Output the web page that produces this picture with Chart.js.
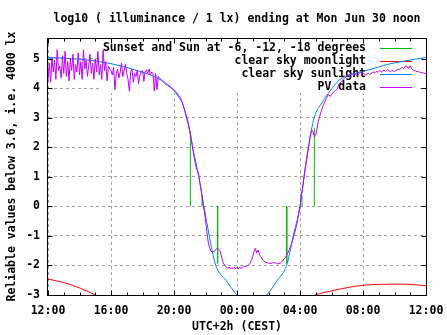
<!DOCTYPE html>
<html>
<head>
<meta charset="utf-8">
<script src="https://cdn.jsdelivr.net/npm/chart.js@4"></script>
<style>
  html, body { margin: 0; padding: 0; background: #fff; }
  #wrap { width: 447px; height: 335px; }
</style>
</head>
<body>
<div id="wrap"><canvas id="lux"></canvas></div>
<script>
// x is hours after 12:00 noon of the previous day
const xTickHours = [0, 4, 8, 12, 16, 20, 24];
const xTickLabels = ['12:00', '16:00', '20:00', '00:00', '04:00', '08:00', '12:00'];
const yTicks = [-3, -2, -1, 0, 1, 2, 3, 4, 5];

const chartTitle = 'log10 ( illuminance / 1 lx) ending at Mon Jun 30 noon';
const seriesNames = [
    'Sunset and Sun at -6, -12, -18 degrees',
    'clear sky moonlight',
    'clear sky sunlight',
    'PV data'
];

// sunset, sun at -6, -12 (evening) then -12, -6, sunrise (morning)
const sunHours = [9.04, 9.78, 10.77, 15.16, 16.13, 16.91];
const sunLog = [2.53, 0.33, -1.93, -1.93, 0.37, 2.66];

const moonHours = [0, 1, 2, 3, 4, 8, 12, 16, 17, 18, 19, 20, 21, 22, 23, 24];
const moonLog = [-2.46, -2.58, -2.76, -3.0, -3.25, -3.8, -3.8, -3.2, -2.99, -2.86, -2.75, -2.67, -2.64, -2.63, -2.64, -2.69];

const clearHours = [0, 1, 2, 3, 4, 5, 5.84, 6.5, 6.9, 7.5, 7.96, 8.3, 8.59, 8.79, 9.0, 9.16, 9.38, 9.6, 9.9,
    10.24, 10.42, 10.65, 11.3, 12.0, 12.5, 12.93, 13.4, 13.89, 14.56, 15.15, 15.38, 15.57, 16.0,
    16.25, 16.53, 16.9, 17.38, 17.9, 18.54, 19.5, 20.44, 21.5, 22.54, 23.3, 24];
const clearLog = [5.04, 5.02, 4.98, 4.92, 4.83, 4.7, 4.57, 4.45, 4.35, 4.17, 3.95, 3.7, 3.42, 3.0, 2.55, 2.05, 1.5, 0.95, 0.0,
    -1.0, -1.5, -2.0, -2.5, -3.0, -3.2, -3.28, -3.2, -3.0, -2.5, -2.0, -1.5, -1.0, 0.0,
    1.0, 2.0, 3.0, 3.5, 3.9, 4.3, 4.5, 4.63, 4.8, 4.91, 4.98, 5.04];

// PV readings every 5 minutes from 12:00, one row per hour
const pvStepMin = 5;
const pvLog = [
    4.25, 4.85, 4.2, 5.05, 4.55, 4.95, 4.3, 5.3, 4.6, 4.75, 4.35, 5.1,
    4.5, 5.25, 4.4, 4.9, 4.25, 5.0, 4.6, 5.15, 4.3, 4.8, 4.55, 5.2,
    4.45, 4.9, 4.3, 5.3, 4.65, 4.95, 4.4, 4.75, 5.15, 4.5, 4.85, 4.3,
    5.0, 4.55, 5.25, 4.45, 4.8, 4.3, 5.3, 4.6, 4.9, 4.25, 4.75, 4.65,
    4.6, 4.45, 4.7, 3.95, 4.5, 4.65, 4.35, 4.55, 4.85, 4.4, 4.6, 4.8,
    4.5, 4.3, 3.9, 4.55, 4.65, 4.2, 4.5, 4.4, 4.6, 4.15, 4.45, 4.55,
    4.6, 4.23, 4.55, 4.62, 4.5, 4.65, 4.45, 4.55, 4.5, 3.9, 4.5, 3.95,
    4.4, 4.35, 4.3, 4.25, 4.2, 4.16, 4.12, 4.09, 4.07, 4.05, 4.0, 3.97,
    3.95, 3.9, 3.85, 3.8, 3.74, 3.68, 3.55, 3.4, 3.28, 3.12, 2.98, 2.8,
    2.55, 2.35, 2.05, 1.75, 1.5, 1.3, 1.2, 1.0, 0.7, 0.45, 0.1, -0.15,
    -0.46, -0.85, -1.2, -1.38, -1.5, -1.55, -1.53, -1.52, -1.45, -1.42, -1.45, -1.5,
    -1.65, -1.85, -1.95, -2.02, -2.05, -2.1, -2.06, -2.12, -2.07, -2.11, -2.06, -2.12,
    -2.06, -2.12, -2.07, -2.11, -2.05, -2.04, -2.04, -2.03, -2.0, -1.97, -1.93, -1.82,
    -1.7, -1.52, -1.42, -1.58, -1.48, -1.62, -1.7, -1.77, -1.83, -1.87, -1.89, -1.91,
    -1.93, -1.92, -1.94, -1.9, -1.92, -1.9, -1.93, -1.95, -1.93, -1.92, -1.88, -1.82,
    -1.78, -1.72, -1.64, -1.55, -1.45, -1.33, -1.18, -1.05, -0.88, -0.72, -0.5, -0.25,
    0.0, 0.38, 0.62, 0.95, 1.3, 1.55, 1.85, 2.12, 2.45, 2.58, 2.54, 2.36,
    2.4, 2.65, 2.88, 3.05, 3.2, 3.32, 3.45, 3.55, 3.65, 3.75, 3.78, 3.72,
    3.78, 3.85, 3.88, 3.93, 3.96, 4.05, 4.15, 4.2, 4.26, 4.3, 4.34, 4.38,
    4.42, 4.44, 4.46, 4.5, 4.47, 4.43, 4.48, 4.46, 4.44, 4.5, 4.53, 4.49,
    4.52, 4.48, 4.45, 4.47, 4.5, 4.46, 4.49, 4.53, 4.55, 4.52, 4.57, 4.55,
    4.56, 4.6, 4.54, 4.58, 4.62, 4.57, 4.6, 4.63, 4.58, 4.55, 4.6, 4.58,
    4.57, 4.6, 4.62, 4.65, 4.63, 4.68, 4.7, 4.66, 4.72, 4.76, 4.7, 4.68,
    4.76, 4.66, 4.62, 4.6, 4.58, 4.56, 4.57, 4.54, 4.53, 4.52, 4.52, 4.5,
    4.5
];

const monoFont = { family: '"DejaVu Sans Mono", monospace', size: 11.5, weight: 'bold' };
const monoCss = 'bold 11.5px "DejaVu Sans Mono", monospace';
const ink = '#000';

const pts = (xs, ys) => xs.map((x, i) => ({ x: x, y: ys[i] }));

// vertical impulses from 0 to the value, separated by gaps
const impulses = [];
sunHours.forEach((h, i) => {
    impulses.push({ x: h, y: 0 }, { x: h, y: sunLog[i] }, { x: h, y: null });
});

const pvPoints = pvLog.map((v, i) => ({ x: i * pvStepMin / 60, y: v }));

// gnuplot look: opaque key box under the curves, border, inward ticks and title on top
const gnuplotFrame = {
    id: 'gnuplotFrame',
    beforeDatasetsDraw(chart) {
        const { ctx, chartArea: a } = chart;
        const textRight = a.right - 60;
        ctx.save();
        ctx.font = monoCss;
        const widest = Math.max(...chart.data.datasets.map(d => ctx.measureText(d.label).width));
        const boxLeft = textRight - widest - 4;
        ctx.fillStyle = '#fff';
        ctx.fillRect(boxLeft, a.top, a.right - 7 - boxLeft, 55);
        ctx.textAlign = 'right';
        ctx.textBaseline = 'middle';
        chart.data.datasets.forEach((d, i) => {
            const y = a.top + 10 + i * 13;
            ctx.fillStyle = ink;
            ctx.fillText(d.label, textRight, y);
            ctx.strokeStyle = d.borderColor;
            ctx.lineWidth = 1;
            ctx.beginPath();
            ctx.moveTo(a.right - 46, Math.round(y) + 0.5);
            ctx.lineTo(a.right - 14, Math.round(y) + 0.5);
            ctx.stroke();
        });
        ctx.restore();
    },
    afterDraw(chart) {
        const { ctx, chartArea: a, scales: { x, y } } = chart;
        const x0 = Math.round(a.left) - 0.5, x1 = Math.round(a.right) + 0.5;
        const y0 = Math.round(a.top) + 0.5, y1 = Math.round(a.bottom) + 0.5;
        ctx.save();
        ctx.strokeStyle = ink;
        ctx.lineWidth = 1;
        ctx.beginPath();
        for (let h = 0; h <= 24; h++) {
            const len = h % 4 === 0 ? 5 : 3;
            const px = Math.round(x.getPixelForValue(h)) + 0.5;
            ctx.moveTo(px, y1); ctx.lineTo(px, y1 - len);
            ctx.moveTo(px, y0); ctx.lineTo(px, y0 + len);
        }
        yTicks.forEach(v => {
            const py = Math.round(y.getPixelForValue(v)) + 0.5;
            ctx.moveTo(x0, py); ctx.lineTo(x0 + 5, py);
            ctx.moveTo(x1, py); ctx.lineTo(x1 - 5, py);
        });
        ctx.stroke();
        ctx.strokeRect(x0, y0, x1 - x0, y1 - y0);

        ctx.font = monoCss;
        ctx.fillStyle = ink;
        ctx.textAlign = 'center';
        ctx.textBaseline = 'middle';
        ctx.fillText(chartTitle, (a.left + a.right) / 2, 19);
        ctx.restore();
    }
};

new Chart(document.getElementById('lux'), {
    type: 'line',
    data: {
        datasets: [
            { label: seriesNames[0], data: impulses, borderColor: '#00c000', order: 4 },
            { label: seriesNames[1], data: pts(moonHours, moonLog), borderColor: '#ff0000', cubicInterpolationMode: 'monotone', order: 3 },
            { label: seriesNames[2], data: pts(clearHours, clearLog), borderColor: '#0080ff', cubicInterpolationMode: 'monotone', order: 2 },
            { label: seriesNames[3], data: pvPoints, borderColor: '#c000ff', order: 1 }
        ]
    },
    options: {
        responsive: true,
        maintainAspectRatio: false,
        animation: false,
        events: [],
        elements: {
            point: { radius: 0 },
            line: { borderWidth: 1, tension: 0 }
        },
        layout: { padding: { top: 38, right: 21 } },
        plugins: {
            legend: { display: false },
            tooltip: { enabled: false }
        },
        scales: {
            x: {
                type: 'linear',
                min: 0,
                max: 24,
                afterBuildTicks: s => { s.ticks = xTickHours.map(v => ({ value: v })); },
                afterFit: s => { s.height = 40; s.paddingLeft = 0; s.paddingRight = 0; },
                ticks: {
                    callback: v => xTickLabels[xTickHours.indexOf(v)],
                    font: monoFont,
                    color: ink,
                    padding: 9,
                    maxRotation: 0,
                    autoSkip: false
                },
                grid: { color: '#a0a0a0', drawTicks: false },
                border: { display: false, dash: [3, 3] },
                title: {
                    display: true,
                    text: 'UTC+2h (CEST)',
                    font: monoFont,
                    color: ink,
                    padding: { top: 0, bottom: 1.5 }
                }
            },
            y: {
                min: -3,
                max: 5.7,
                afterBuildTicks: s => { s.ticks = yTicks.map(v => ({ value: v })); },
                afterFit: s => { s.width = 48; },
                ticks: { font: monoFont, color: ink, padding: 8 },
                grid: { color: '#a0a0a0', drawTicks: false },
                border: { display: false, dash: [3, 3] },
                title: {
                    display: true,
                    text: 'Reliable values below 3.6, i.e. 4000 lx',
                    font: monoFont,
                    color: ink,
                    padding: { top: 5.6, bottom: 0 }
                }
            }
        }
    },
    plugins: [gnuplotFrame]
});
</script>
</body>
</html>
